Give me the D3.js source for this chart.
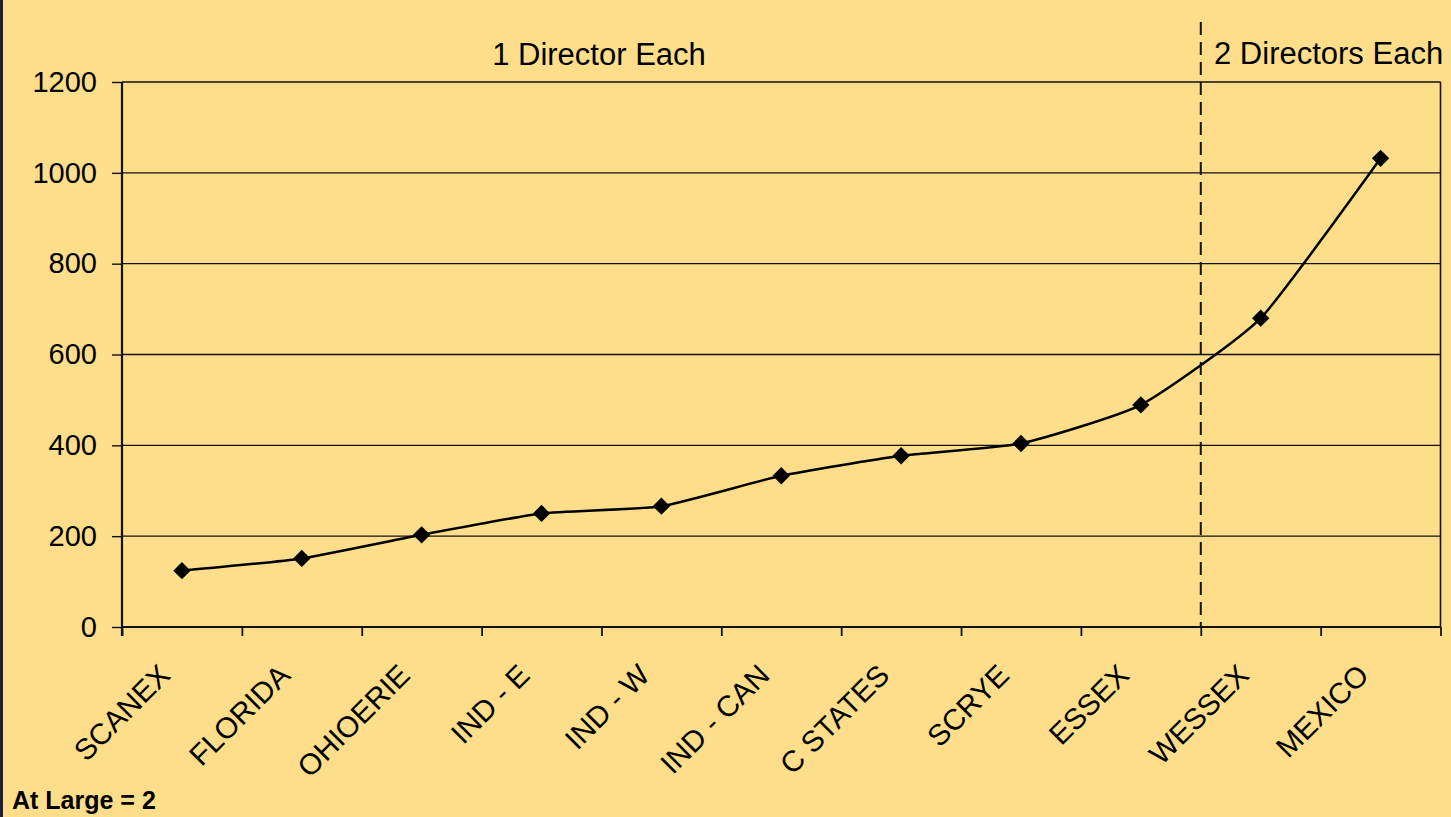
<!DOCTYPE html>
<html>
<head>
<meta charset="utf-8">
<script src="https://cdn.jsdelivr.net/npm/d3@7"></script>
<style>
  html, body { margin: 0; padding: 0; background: #FEDE8A; }
  svg { display: block; font-family: "Liberation Sans", Arial, sans-serif; }
</style>
</head>
<body>
<svg width="1451" height="817"></svg>
<script>
var categories = ["SCANEX", "FLORIDA", "OHIOERIE", "IND - E", "IND - W", "IND - CAN",
                  "C STATES", "SCRYE", "ESSEX", "WESSEX", "MEXICO"];
var values = [124, 151, 203, 250, 266, 333, 377, 404, 489, 680, 1032];
var yTicks = [0, 200, 400, 600, 800, 1000, 1200];
var groupLabels = ["1 Director Each", "2 Directors Each"];
var note = "At Large = 2";
var splitAt = "WESSEX";

var svg = d3.select("svg");
var margin = {top: 82, right: 10.5, bottom: 190, left: 122};
var width = +svg.attr("width") - margin.left - margin.right;
var height = +svg.attr("height") - margin.top - margin.bottom;

svg.append("rect")
    .attr("width", 1451).attr("height", 817)
    .attr("fill", "#FEDE8A");
svg.append("rect")
    .attr("width", 3).attr("height", 817)
    .attr("fill", "#1b1d3c");

var g = svg.append("g")
    .attr("transform", "translate(" + margin.left + "," + margin.top + ")");

var x = d3.scaleBand().domain(categories).range([0, width]);
var xEdge = d3.scaleLinear().domain([0, categories.length]).range([0, width]);
var y = d3.scaleLinear().domain([0, 1200]).range([height, 0]);

// horizontal gridlines
g.append("g")
    .selectAll("line")
    .data(yTicks.filter(function(d) { return d > 0; }))
    .enter().append("line")
    .attr("x1", 0).attr("x2", width)
    .attr("y1", function(d) { return y(d); })
    .attr("y2", function(d) { return y(d); })
    .attr("stroke", "#111")
    .attr("stroke-width", 1.4);

// right border of the plot
g.append("line")
    .attr("x1", width).attr("x2", width)
    .attr("y1", 0).attr("y2", height)
    .attr("stroke", "#111")
    .attr("stroke-width", 1.6);

// y axis
var yAxis = g.append("g")
    .call(d3.axisLeft(y).tickValues(yTicks).tickSize(10).tickPadding(15).tickFormat(d3.format("d")));
yAxis.select(".domain").remove();
yAxis.selectAll(".tick line").attr("stroke", "#111").attr("stroke-width", 1.4);
yAxis.append("line")
    .attr("x1", 0).attr("x2", 0)
    .attr("y1", 0).attr("y2", height + 9)
    .attr("stroke", "#111").attr("stroke-width", 2.2);
yAxis.selectAll("text")
    .attr("fill", "#000")
    .style("font-size", "29px");

// x axis ticks at category boundaries
var xAxis = g.append("g")
    .attr("transform", "translate(0," + height + ")")
    .call(d3.axisBottom(xEdge).ticks(categories.length).tickSize(9).tickFormat(""));
xAxis.select(".domain")
    .attr("d", "M0,0H" + width)
    .attr("stroke", "#111").attr("stroke-width", 2.2);
xAxis.selectAll(".tick line").attr("stroke", "#111").attr("stroke-width", 1.8);

// category labels
g.append("g")
    .selectAll("text")
    .data(categories)
    .enter().append("text")
    .attr("transform", function(d) {
        return "translate(" + (x(d) + x.bandwidth() / 2 - 10) + "," + (height + 50) + ") rotate(-45)";
    })
    .attr("text-anchor", "end")
    .attr("fill", "#000")
    .style("font-size", "29.5px")
    .text(function(d) { return d; });

// dashed divider
g.append("line")
    .attr("x1", x(splitAt)).attr("x2", x(splitAt))
    .attr("y1", -60).attr("y2", height)
    .attr("stroke", "#111")
    .attr("stroke-width", 2)
    .attr("stroke-dasharray", "13,7");

// the line
var line = d3.line()
    .x(function(d, i) { return x(categories[i]) + x.bandwidth() / 2; })
    .y(function(d) { return y(d); })
    .curve(d3.curveCardinal.tension(0.5));

g.append("path")
    .datum(values)
    .attr("d", line)
    .attr("fill", "none")
    .attr("stroke", "#000")
    .attr("stroke-width", 2.5)
    .attr("stroke-linejoin", "round");

g.append("g")
    .selectAll("path")
    .data(values)
    .enter().append("path")
    .attr("d", d3.symbol().type(d3.symbolSquare).size(150))
    .attr("transform", function(d, i) {
        return "translate(" + (x(categories[i]) + x.bandwidth() / 2) + "," + y(d) + ") rotate(45)";
    })
    .attr("fill", "#000");

// group labels
svg.append("text")
    .attr("x", 599).attr("y", 65)
    .attr("text-anchor", "middle")
    .style("font-size", "31px")
    .text(groupLabels[0]);
svg.append("text")
    .attr("x", 1214).attr("y", 64)
    .style("font-size", "31px")
    .text(groupLabels[1]);

svg.append("text")
    .attr("x", 12).attr("y", 809)
    .style("font-size", "25px")
    .style("font-weight", "bold")
    .text(note);
</script>
</body>
</html>
